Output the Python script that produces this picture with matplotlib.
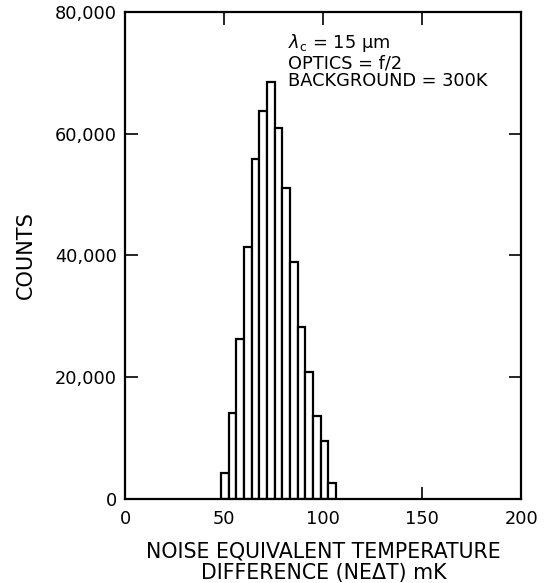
import matplotlib
matplotlib.use("Agg")
import matplotlib.pyplot as plt
from matplotlib.ticker import FixedLocator

# Data
bin_left_edges = [48.3, 52.2, 56.1, 59.9, 63.8, 67.7, 71.6, 75.4, 79.3, 83.2, 87.1, 90.9, 94.8, 98.7, 102.5]
bin_width = 3.87
counts = [4300, 14100, 26250, 41400, 55800, 63700, 68500, 60900, 51100, 39000, 28200, 20900, 13700, 9600, 2700]

xticks = [0, 50, 100, 150, 200]
xtick_labels = ["0", "50", "100", "150", "200"]
yticks = [0, 20000, 40000, 60000, 80000]
ytick_labels = ["0", "20,000", "40,000", "60,000", "80,000"]

annotation_lines = [r"$\lambda_\mathrm{c}$ = 15 μm", "OPTICS = f/2", "BACKGROUND = 300K"]

plt.rcParams['font.family'] = ['DejaVu Sans']
plt.rcParams['mathtext.fontset'] = 'dejavusans'

fig = plt.figure(figsize=(5.5, 5.83), dpi=100)
ax = fig.add_axes([0.228, 0.1436, 0.7195, 0.8364])
ax.set_axisbelow(True)

ax.bar(bin_left_edges, counts, width=bin_width, align='edge',
       facecolor='white', edgecolor='black', linewidth=1.6)

ax.set_xlim(0, 200)
ax.set_ylim(0, 80000)

ax.xaxis.set_major_locator(FixedLocator(xticks))
ax.set_xticklabels(xtick_labels, fontsize=12.8)
ax.yaxis.set_major_locator(FixedLocator(yticks))
ax.set_yticklabels(ytick_labels, fontsize=12.8)

ax.tick_params(direction='in', length=9, width=1.2, top=True, right=True,
               pad=6, colors='black')
ax.tick_params(axis='x', pad=8)

for s in ax.spines.values():
    s.set_linewidth(1.6)

ax.set_xlabel("NOISE EQUIVALENT TEMPERATURE\nDIFFERENCE (NEΔT) mK",
              fontsize=14.8, linespacing=1.08, labelpad=9.5)
ax.set_ylabel("COUNTS", fontsize=15, labelpad=14)

ys = [74000, 70700, 67800]
for line, y in zip(annotation_lines, ys):
    ax.text(82.3, y, line, fontsize=12.8, va='baseline', ha='left')

fig.savefig("out.png", dpi=100)
